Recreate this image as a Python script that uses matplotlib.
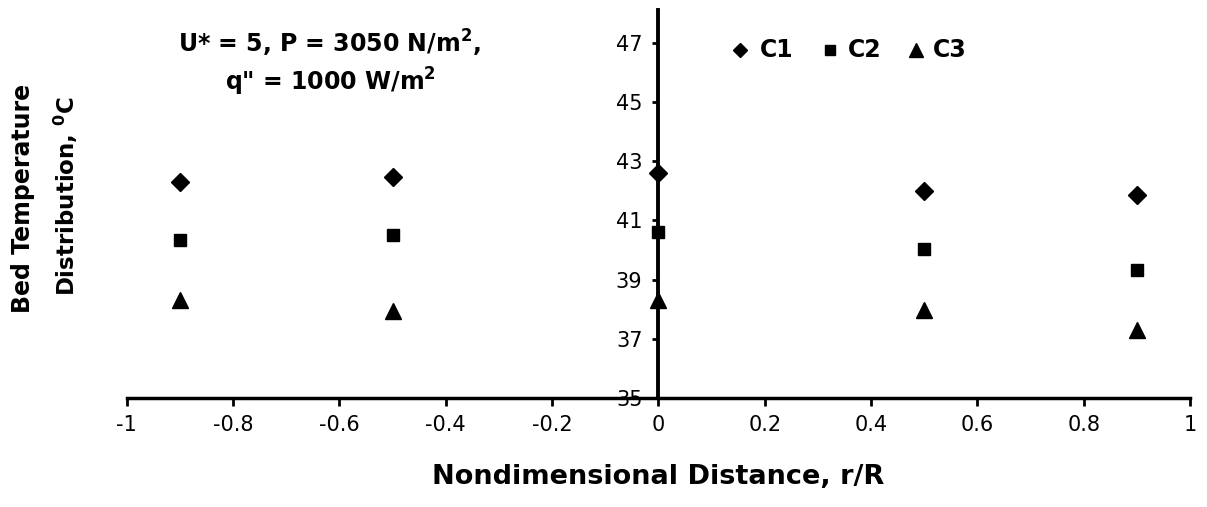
import matplotlib
matplotlib.use("Agg")
import matplotlib.pyplot as plt

plt.rcParams['font.family'] = ['DejaVu Sans']
plt.rcParams['mathtext.fontset'] = 'dejavusans'

# Radial positions and bed temperatures for the three cases
r_over_R = [-0.9, -0.5, 0.0, 0.5, 0.9]
temp_c1 = [42.28, 42.45, 42.6, 42.0, 41.85]
temp_c2 = [40.33, 40.5, 40.6, 40.03, 39.32]
temp_c3 = [38.3, 37.93, 38.3, 37.97, 37.3]

x_ticks = [-1, -0.8, -0.6, -0.4, -0.2, 0, 0.2, 0.4, 0.6, 0.8, 1]
x_tick_labels = ['-1', '-0.8', '-0.6', '-0.4', '-0.2', '0', '0.2', '0.4', '0.6', '0.8', '1']
y_ticks = [35, 37, 39, 41, 43, 45, 47]

fig = plt.figure(figsize=(12.07, 5.07), dpi=100)
ax = fig.add_axes([0.105, 0.215, 0.881, 0.765])

ax.plot(r_over_R, temp_c1, linestyle='none', marker='D', ms=9.2, color='black', zorder=5, clip_on=False)
ax.plot(r_over_R, temp_c2, linestyle='none', marker='s', ms=9, color='black', zorder=5, clip_on=False)
ax.plot(r_over_R, temp_c3, linestyle='none', marker='^', ms=11.5, color='black', zorder=5, clip_on=False)

ax.set_xlim(-1, 1)
ax.set_ylim(35, 48.1)

ax.spines['top'].set_visible(False)
ax.spines['right'].set_visible(False)
ax.spines['left'].set_position(('data', 0))
ax.spines['left'].set_linewidth(2.8)
ax.spines['bottom'].set_linewidth(2.5)

ax.set_xticks(x_ticks)
ax.set_xticklabels(x_tick_labels)
ax.set_yticks(y_ticks)
ax.tick_params(axis='x', direction='out', length=6, width=2, labelsize=15, pad=6)
ax.tick_params(axis='y', direction='out', length=4.5, width=2, labelsize=15, pad=7)

fig.text(0.545, 0.059, 'Nondimensional Distance, r/R', ha='center', va='center',
         fontsize=19.5, fontweight='bold')
fig.text(0.019, 0.609, 'Bed Temperature', rotation=90, ha='center', va='center',
         fontsize=17, fontweight='bold')
fig.text(0.055, 0.613, r'Distribution, $\mathbf{^{0}}$C', rotation=90, ha='center', va='center',
         fontsize=16.5, fontweight='bold')

ax.text(-0.619, 46.96, r'U* = 5, P = 3050 N/m$\mathbf{^{2}}$,', ha='center', va='center',
        fontsize=17, fontweight='bold')
ax.text(-0.617, 45.69, r'q" = 1000 W/m$\mathbf{^{2}}$', ha='center', va='center',
        fontsize=17, fontweight='bold')

# Inline legend row
leg_y = 46.77
ax.plot([0.153], [leg_y], marker='D', ms=7, color='black', linestyle='none', clip_on=False)
ax.text(0.190, leg_y, 'C1', ha='left', va='center', fontsize=17, fontweight='bold')
ax.plot([0.322], [leg_y], marker='s', ms=7.2, color='black', linestyle='none', clip_on=False)
ax.text(0.357, leg_y, 'C2', ha='left', va='center', fontsize=17, fontweight='bold')
ax.plot([0.484], [leg_y], marker='^', ms=10, color='black', linestyle='none', clip_on=False)
ax.text(0.517, leg_y, 'C3', ha='left', va='center', fontsize=17, fontweight='bold')

fig.savefig('out.png', dpi=100, facecolor='white')
